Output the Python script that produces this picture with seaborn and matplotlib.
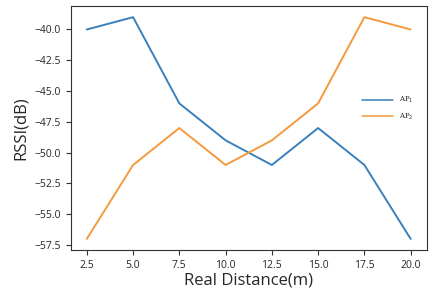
import matplotlib
matplotlib.use("Agg")
import matplotlib.pyplot as plt
import seaborn as sns
import pandas as pd

# data
distance = [2.5, 5.0, 7.5, 10.0, 12.5, 15.0, 17.5, 20.0]
ap1 = [-40, -39, -46, -49, -51, -48, -51, -57]
ap2 = [-57, -51, -48, -51, -49, -46, -39, -40]

df = pd.DataFrame({
    "distance": distance * 2,
    "rssi": ap1 + ap2,
    "ap": ["AP$_1$"] * len(ap1) + ["AP$_2$"] * len(ap2),
})

sns.set_style("ticks")
plt.rcParams["font.family"] = ["Open Sans", "DejaVu Sans"]

fig = plt.figure(figsize=(4.36, 2.9), dpi=100)
ax = fig.add_axes([0.162, 0.138, 0.817, 0.841])

sns.lineplot(data=df, x="distance", y="rssi", hue="ap",
             palette=["#3a80bc", "#f59a3c"], linewidth=1.4, ax=ax)

ax.set_xticks([2.5, 5.0, 7.5, 10.0, 12.5, 15.0, 17.5, 20.0])
ax.set_yticks([-40.0, -42.5, -45.0, -47.5, -50.0, -52.5, -55.0, -57.5])
ax.set_xticklabels([f"{v:.1f}" for v in ax.get_xticks()])
ax.set_yticklabels([f"{v:.1f}".replace("-", "\u2212") for v in ax.get_yticks()])
ax.tick_params(labelsize=7.5, length=3.5, width=0.8, color="#333333")
ax.set_xlabel("Real Distance(m)", fontsize=12, labelpad=1)
ax.set_ylabel("RSSI(dB)", fontsize=12, labelpad=4)
for s in ax.spines.values():
    s.set_linewidth(0.8)
    s.set_color("#333333")

leg = ax.legend(title=None, frameon=False, loc="center left",
                bbox_to_anchor=(0.8, 0.58), handlelength=4.5, labelspacing=0.9,
                prop={"family": "serif", "size": 5})
for line in leg.get_lines():
    line.set_linewidth(1.1)

fig.savefig("out.png", dpi=100)
